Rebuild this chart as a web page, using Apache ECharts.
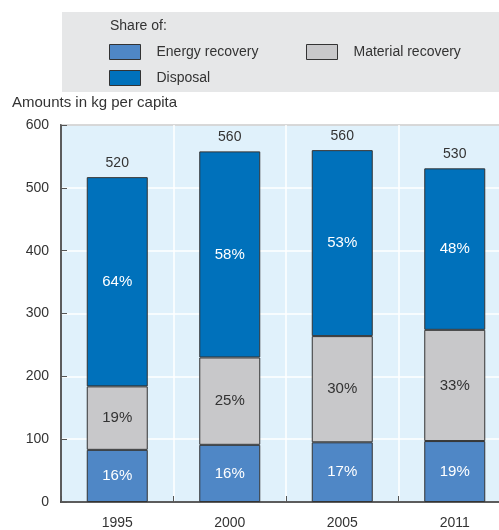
<!DOCTYPE html>
<html><head><meta charset="utf-8">
<script src="https://cdn.jsdelivr.net/npm/echarts@6/dist/echarts.min.js"></script>
<style>html,body{margin:0;padding:0;background:#fff;overflow:hidden}#c{width:511px;height:530px}</style>
</head><body><div id="c"></div>
<script>
var years = ['1995', '2000', '2005', '2011'];
var energy = [83, 91, 95, 97];
var material = [101, 139, 169, 177];
var disposal = [333, 328, 296, 257];
var totals = ['520', '560', '560', '530'];
var energyPct = ['16%', '16%', '17%', '19%'];
var materialPct = ['19%', '25%', '30%', '33%'];
var disposalPct = ['64%', '58%', '53%', '48%'];
var yTicks = [0, 100, 200, 300, 400, 500, 600];

var FONT = '"Liberation Sans", Arial, sans-serif';
var chart = echarts.init(document.getElementById('c'));
function lbl(arr, color) {
  return {show: true, position: 'inside', color: color, fontFamily: FONT, fontSize: 15,
    formatter: function (p) { return arr[p.dataIndex]; }};
}
var border = {borderColor: '#333', borderWidth: 1};
var legendText = {fontFamily: FONT, fontSize: 14, color: '#333', padding: [0, 0, 0, 11]};
function lg(name, left, top) {
  return {data: [{name: name, icon: 'rect'}], left: left, top: top, itemWidth: 31, itemHeight: 15,
    textStyle: legendText, selectedMode: false, itemStyle: {borderColor: '#333', borderWidth: 1}};
}
chart.setOption({
  animation: false,
  graphic: [
    {type: 'rect', left: 62, top: 12, shape: {width: 449, height: 80}, style: {fill: '#e6e7e8'}, z: -1},
    {type: 'text', left: 110, top: 19, style: {text: 'Share of:', font: '14px ' + FONT, fill: '#333'}},
    {type: 'text', left: 12, top: 95, style: {text: 'Amounts in kg per capita', font: '15px ' + FONT, fill: '#333'}}
  ],
  legend: [lg('Energy recovery', 104, 39), lg('Material recovery', 301, 39), lg('Disposal', 104, 65)],
  grid: {left: 61, top: 125, bottom: 28, right: 0, show: true, backgroundColor: '#e0f1fb',
    borderColor: '#333', borderWidth: 1.5},
  xAxis: {
    type: 'category', data: years,
    axisLine: {lineStyle: {color: '#333', width: 1.5}},
    axisTick: {show: true, inside: true, length: 6, lineStyle: {color: '#555'}},
    axisLabel: {fontFamily: FONT, fontSize: 14, color: '#333', margin: 14},
    splitLine: {show: true, interval: 0, lineStyle: {color: '#fff', width: 1.5}}
  },
  yAxis: {
    type: 'value', min: 0, max: 600, interval: 100,
    axisLine: {show: true, lineStyle: {color: '#333', width: 1.5}},
    axisTick: {show: true, inside: true, length: 6, lineStyle: {color: '#555'}},
    axisLabel: {fontFamily: FONT, fontSize: 14, color: '#333', margin: 12,
      formatter: function (v) { return yTicks.indexOf(v) >= 0 ? String(v) : ''; }},
    splitLine: {show: true, lineStyle: {color: '#fff', width: 1.5}}
  },
  series: [
    {name: 'Energy recovery', type: 'bar', stack: 't', data: energy, barWidth: 61,
      itemStyle: Object.assign({color: '#4f87c6'}, border), label: lbl(energyPct, '#fff')},
    {name: 'Material recovery', type: 'bar', stack: 't', data: material, barWidth: 61,
      itemStyle: Object.assign({color: '#c8c8ca'}, border), label: lbl(materialPct, '#333')},
    {name: 'Disposal', type: 'bar', stack: 't', data: disposal, barWidth: 61,
      itemStyle: Object.assign({color: '#0071bb'}, border), label: lbl(disposalPct, '#fff')},
    {name: 'totals', type: 'bar', stack: 't', data: [0, 0, 0, 0], barWidth: 61,
      itemStyle: {color: 'transparent'},
      label: {show: true, position: 'top', distance: 7, color: '#333', fontFamily: FONT, fontSize: 14,
        formatter: function (p) { return totals[p.dataIndex]; }}}
  ]
});
</script></body></html>
